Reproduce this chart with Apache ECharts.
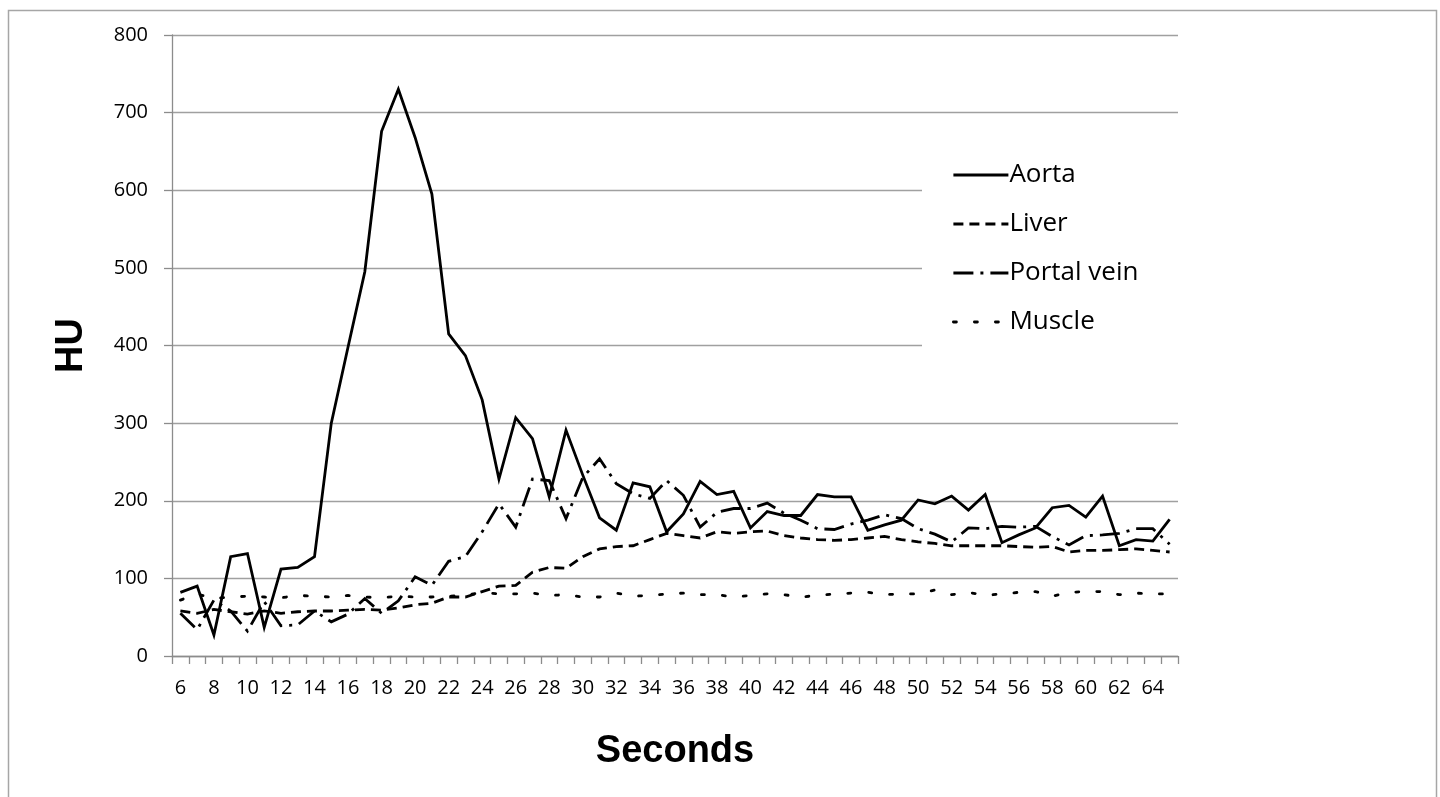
<!DOCTYPE html>
<html>
<head>
<meta charset="utf-8">
<script src="https://cdn.jsdelivr.net/npm/echarts@6/dist/echarts.min.js"></script>
<style>
	html, body { margin: 0; padding: 0; background: #fff; }
	#chart { width: 1440px; height: 797px; }
</style>
</head>
<body>
<div id="chart"></div>
<script>
// seconds 6..65
let seconds = [];
for (let s = 6; s <= 65; s++) seconds.push(String(s));

let aorta = [82, 90, 27, 128, 132, 37, 112, 114, 128, 300,
	398, 495, 676, 730, 668, 595, 415, 387, 330, 228,
	307, 280, 205, 291, 233, 178, 162, 223, 218, 160,
	183, 225, 208, 212, 165, 186, 181, 181, 208, 205,
	205, 162, 169, 175, 201, 196, 206, 188, 208, 146,
	156, 165, 191, 194, 179, 206, 142, 150, 148, 176];

let liver = [58, 55, 60, 57, 54, 58, 55, 57, 58, 58,
	59, 60, 59, 62, 66, 68, 76, 76, 83, 90,
	91, 108, 114, 113, 128, 138, 141, 142, 150, 158,
	155, 152, 160, 158, 160, 161, 155, 152, 150, 149,
	150, 152, 154, 150, 147, 145, 142, 142, 142, 142,
	141, 140, 141, 134, 136, 136, 137, 138, 136, 134];

let portalVein = [55, 34, 72, 58, 32, 70, 39, 40, 58, 44,
	54, 74, 55, 71, 102, 91, 122, 128, 160, 196,
	166, 228, 226, 177, 230, 254, 222, 209, 203, 226,
	207, 166, 185, 190, 190, 197, 184, 175, 164, 163,
	170, 175, 182, 177, 164, 157, 147, 165, 164, 167,
	166, 167, 154, 143, 155, 156, 158, 164, 164, 144];

let muscle = [72, 80, 74, 76, 77, 76, 75, 78, 77, 76,
	78, 76, 75, 77, 76, 76, 77, 78, 82, 80,
	80, 81, 78, 79, 76, 76, 81, 77, 78, 80,
	81, 79, 79, 76, 78, 80, 79, 76, 78, 80,
	81, 82, 79, 80, 80, 85, 79, 82, 78, 80,
	82, 83, 77, 82, 83, 83, 79, 81, 80, 80];

let seriesNames = ['Aorta', 'Liver', 'Portal vein', 'Muscle'];
let seriesData = [aorta, liver, portalVein, muscle];
let dashTypes = ['solid', [10, 6], [20, 7, 3, 7], [3, 18]];

let myChart = echarts.init(document.getElementById('chart'));

let series = seriesNames.map((name, i) => ({
	name: name,
	type: 'line',
	data: seriesData[i],
	symbol: 'none',
	lineStyle: {
		color: '#000',
		width: 2.8,
		type: dashTypes[i],
		cap: i === 3 ? 'round' : 'butt',
		join: 'miter'
	},
	itemStyle: { color: '#000' },
	emphasis: { disabled: true },
	z: 4 - i
}));

let option = {
	animation: false,
	backgroundColor: '#fff',
	textStyle: { fontFamily: '"Open Sans", "Noto Sans", sans-serif' },
	graphic: [{
		type: 'rect',
		shape: { x: 8.5, y: 10.5, width: 1428, height: 800 },
		style: { fill: 'none', stroke: '#a6a6a6', lineWidth: 1.5 },
		silent: true
	}],
	grid: {
		left: 172,
		right: 262,
		top: 35,
		bottom: 141,
		containLabel: false
	},
	legend: {
		orient: 'vertical',
		left: 922,
		top: 152,
		backgroundColor: '#fff',
		padding: [10, 40, 18, 30],
		itemGap: 23,
		itemWidth: 55,
		itemHeight: 14,
		itemStyle: { opacity: 0 },
		lineStyle: { width: 2.8 },
		textStyle: {
			color: '#000',
			fontSize: 26,
			fontFamily: '"Open Sans", "Noto Sans", sans-serif',
			padding: [0, 0, 0, -4]
		},
		data: seriesNames
	},
	xAxis: {
		type: 'category',
		data: seconds,
		boundaryGap: true,
		name: 'Seconds',
		nameLocation: 'middle',
		nameGap: 77,
		nameTextStyle: {
			color: '#000',
			fontSize: 38,
			fontWeight: 'bold',
			fontFamily: '"Liberation Sans", Arial, sans-serif'
		},
		axisLine: { lineStyle: { color: '#8c8c8c', width: 1.3 } },
		axisTick: {
			show: true,
			alignWithLabel: false,
			interval: 0,
			length: 8,
			lineStyle: { color: '#8c8c8c', width: 1.3 }
		},
		axisLabel: {
			interval: 1,
			color: '#000',
			fontSize: 20,
			margin: 22
		},
		splitLine: { show: false }
	},
	yAxis: {
		type: 'value',
		min: 0,
		max: 800,
		interval: 100,
		name: 'HU',
		nameLocation: 'middle',
		nameGap: 81,
		nameRotate: 90,
		nameTextStyle: {
			color: '#000',
			fontSize: 38,
			fontWeight: 'bold',
			fontFamily: '"Liberation Sans", Arial, sans-serif'
		},
		axisLine: { show: true, lineStyle: { color: '#8c8c8c', width: 1.3 } },
		axisTick: { show: true, length: 8, lineStyle: { color: '#8c8c8c', width: 1.3 } },
		axisLabel: {
			color: '#000',
			fontSize: 20,
			margin: 24
		},
		splitLine: { lineStyle: { color: '#a0a0a0', width: 1.3 } }
	},
	series: series
};

myChart.setOption(option);
window.onresize = myChart.resize;
</script>
</body>
</html>
